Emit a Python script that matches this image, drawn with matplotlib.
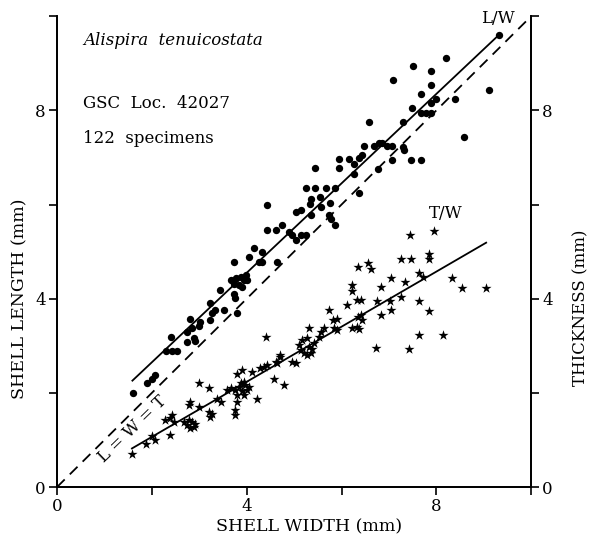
import matplotlib
matplotlib.use("Agg")
import numpy as np
from matplotlib import pyplot as plt

# Alispira tenuicostata, GSC Loc. 42027 - shell length and thickness vs width (mm)

# length / width (dots)
lw_width = [1.60, 1.90, 2.00, 2.07, 2.30, 2.42, 2.52, 2.41, 2.81, 2.74, 2.85, 2.88, 2.74, 2.92,
            3.02, 3.00, 3.22, 3.23, 3.27, 3.34, 3.43, 3.53, 3.80, 3.76, 3.73, 3.66, 3.77, 3.87,
            3.94, 3.83, 3.90, 3.73, 3.73, 4.00, 3.98, 4.04, 4.15, 4.33, 4.26, 4.33, 4.64, 4.43,
            4.61, 4.75, 4.89, 4.96, 5.03, 5.14, 5.26, 4.43, 5.03, 5.14, 5.35, 5.33, 5.35, 5.55,
            5.56, 5.76, 5.74, 5.77, 5.86, 5.26, 5.45, 5.67, 5.86, 5.45, 5.95, 5.95, 6.16, 6.26,
            6.37, 6.44, 6.26, 6.37, 6.76, 7.07, 9.33, 8.20, 7.50, 7.89, 7.09, 7.89, 7.67, 7.99,
            7.89, 8.40, 9.10, 7.48, 7.67, 7.78, 7.89, 6.58, 7.29, 8.59, 6.48, 6.69, 6.79, 6.86,
            6.95, 7.07, 7.29, 7.32, 7.46, 7.67]
lw_length = [2.00, 2.20, 2.30, 2.38, 2.90, 2.90, 2.90, 3.19, 3.58, 3.30, 3.37, 3.16, 3.09, 3.10,
             3.51, 3.42, 3.90, 3.55, 3.69, 3.76, 4.18, 3.76, 3.69, 4.01, 4.11, 4.39, 4.43, 4.47,
             4.39, 4.29, 4.25, 4.32, 4.78, 4.40, 4.50, 4.89, 5.07, 5.00, 4.78, 4.78, 4.78, 5.46,
             5.46, 5.56, 5.42, 5.35, 5.24, 5.35, 5.35, 5.99, 5.85, 5.88, 5.78, 6.02, 6.12, 6.16,
             5.95, 6.04, 5.78, 5.70, 5.56, 6.36, 6.36, 6.36, 6.36, 6.77, 6.96, 6.77, 6.96, 6.87,
             6.98, 7.05, 6.65, 6.25, 6.75, 6.94, 9.60, 9.12, 8.94, 8.84, 8.64, 8.54, 8.34, 8.24,
             8.16, 8.24, 8.43, 8.04, 7.95, 7.95, 7.95, 7.76, 7.76, 7.44, 7.24, 7.24, 7.31, 7.30,
             7.24, 7.24, 7.23, 7.16, 6.94, 6.94]

# thickness / width (stars)
tw_width = [1.58, 1.88, 2.00, 2.07, 2.39, 2.28, 2.39, 2.42, 2.46, 2.67, 2.74, 2.81, 2.88, 2.78,
            2.85, 2.92, 2.78, 2.81, 2.99, 2.99, 3.20, 3.20, 3.27, 3.23, 3.38, 3.45, 3.76, 3.76,
            3.80, 3.59, 3.66, 3.80, 3.90, 3.76, 3.83, 3.87, 3.94, 3.97, 3.90, 4.00, 3.94, 3.80,
            4.21, 4.04, 4.12, 4.29, 4.36, 4.43, 4.57, 4.78, 4.61, 4.71, 4.40,
            4.64, 4.71, 4.96, 5.03, 5.10, 5.17, 5.14, 5.21, 5.28, 5.35, 5.38, 5.42, 5.28, 5.31,
            5.31, 5.52, 5.56, 5.63, 5.74, 5.81, 5.91, 5.84, 5.91, 6.12, 6.23, 6.23, 6.34, 6.32,
            6.41, 6.34, 6.41, 6.44, 6.23, 6.32, 6.37, 6.55, 6.62, 6.72, 6.74, 6.83, 6.83, 7.04,
            7.03, 7.04, 7.25, 7.46, 7.25, 7.34, 7.45, 7.43, 7.64, 7.71, 7.64, 7.64, 7.85, 7.85,
            7.85, 7.96, 8.13, 8.34, 8.54, 9.05]
tw_thick = [0.71, 0.91, 1.08, 1.01, 1.10, 1.42, 1.46, 1.53, 1.39, 1.39, 1.32, 1.25, 1.28, 1.42,
            1.39, 1.35, 1.74, 1.81, 1.70, 2.20, 2.10, 1.60, 1.56, 1.49, 1.88, 1.81, 1.63, 1.53,
            1.81, 2.06, 2.10, 2.41, 2.48, 2.06, 2.13, 2.20, 2.24, 2.17, 2.03, 2.06, 1.96, 1.96,
            1.88, 2.13, 2.45, 2.52, 2.55, 2.59, 2.29, 2.17, 2.66, 2.77, 3.19,
            2.63, 2.80, 2.66, 2.63, 3.01, 3.12, 2.91, 2.84, 2.80, 2.84, 2.94, 3.05, 3.16, 2.98,
            3.37, 3.19, 3.30, 3.37, 3.77, 3.55, 3.56, 3.37, 3.33, 3.86, 4.29, 4.17, 4.68, 3.97,
            3.97, 3.62, 3.65, 3.55, 3.37, 3.40, 3.35, 4.76, 4.64, 2.96, 3.96, 4.25, 3.65, 4.45,
            3.96, 3.76, 4.85, 4.85, 4.04, 4.35, 5.35, 2.94, 4.55, 4.47, 3.96, 3.24, 4.96, 4.85,
            3.74, 5.44, 3.24, 4.44, 4.23, 4.23]

# fitted lines: slope, intercept, width range
lw_fit = [0.95, 0.75, 1.59, 9.32]
tw_fit = [0.585, -0.104, 1.58, 9.05]
equal_range = [0.0, 9.9]

serif = "DejaVu Serif"
plt.rcParams['font.family'] = serif
plt.rcParams['font.size'] = 12

fig = plt.figure(figsize=(5.92, 5.40), dpi=100)
ax = fig.add_axes([0.0963, 0.098, 0.801, 0.872])
ax2 = ax.twinx()

ax.scatter(lw_width, lw_length, s=28, color='black', marker='o', linewidths=0, zorder=3)
ax2.scatter(tw_width, tw_thick, s=58, color='black', marker='*', linewidths=0, zorder=3)

xx = np.array(lw_fit[2:])
ax.plot(xx, lw_fit[0] * xx + lw_fit[1], color='black', linewidth=1.3)
xx = np.array(tw_fit[2:])
ax2.plot(xx, tw_fit[0] * xx + tw_fit[1], color='black', linewidth=1.3)
ax.plot(equal_range, equal_range, color='black', linewidth=1.3, linestyle=(0, (6, 4)))

for a in (ax, ax2):
    a.set_xlim(0, 10)
    a.set_ylim(0, 10)
    a.spines['top'].set_visible(False)
    for s in a.spines.values():
        s.set_linewidth(1.3)
    a.set_yticks([0, 2, 4, 6, 8, 10])
    a.set_yticklabels(['0', '', '4', '', '8', ''])
    a.tick_params(direction='out', length=6, width=1.2, labelsize=12, pad=2)

ax.set_xticks([0, 2, 4, 6, 8, 10])
ax.set_xticklabels(['0', '', '4', '', '8', ''])

ax.text(0.532, -0.085, "SHELL WIDTH (mm)", transform=ax.transAxes, ha='center', va='center', fontsize=12.5)
ax.text(-0.078, 0.40, "SHELL LENGTH (mm)", transform=ax.transAxes, ha='center', va='center',
        rotation=90, fontsize=12.5)
ax.text(1.104, 0.38, "THICKNESS (mm)", transform=ax.transAxes, ha='center', va='center',
        rotation=90, fontsize=12)

ax.text(0.55, 9.49, "Alispira  tenuicostata", style='italic', ha='left', va='center', fontsize=12)
ax.text(0.55, 8.15, "GSC  Loc.  42027", ha='left', va='center', fontsize=12)
ax.text(0.55, 7.41, "122  specimens", ha='left', va='center', fontsize=12)
ax.text(9.3, 9.96, "L/W", ha='center', va='center', fontsize=12)
ax.text(8.2, 5.82, "T/W", ha='center', va='center', fontsize=12)
ax.text(1.6, 1.23, "L = W = T", ha='center', va='center', rotation=44, fontsize=12)

fig.savefig("out.png", dpi=100)
